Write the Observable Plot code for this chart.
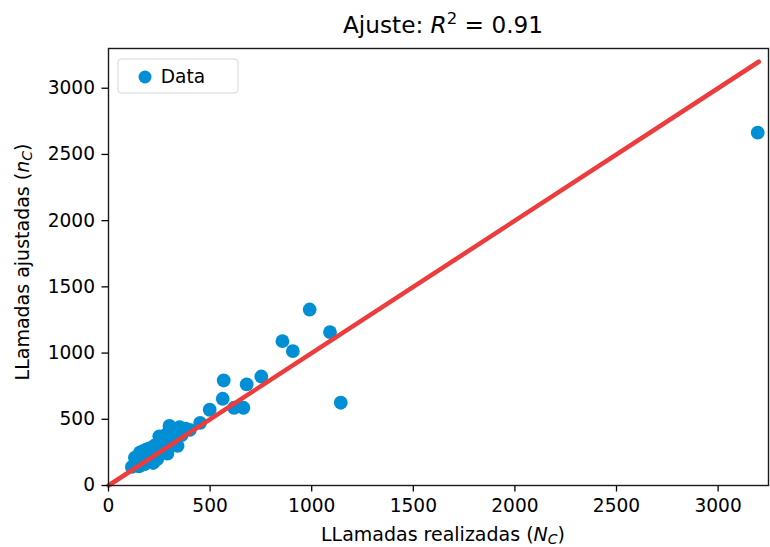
<!DOCTYPE html>
<html>
<head>
<meta charset="utf-8">
<script src="https://cdn.jsdelivr.net/npm/d3@7"></script>
<script src="https://cdn.jsdelivr.net/npm/@observablehq/plot@0.6"></script>
<style>
  html, body { margin: 0; padding: 0; background: #fff; }
  #chart svg { display: block; }
</style>
</head>
<body>
<div id="chart"></div>
<script>
// Observed calls (N_C) and fitted calls (n_C)
const realizadas = [
  115, 140, 150, 160, 170, 180, 190, 200, 210, 220, 230, 240, 250, 260, 270, 280,
  290, 300, 310, 320, 330, 340, 350, 360, 380, 400, 130, 155, 175, 205, 225, 265,
  295, 315, 245, 185,
  451, 498, 562, 567, 618, 664, 680, 752, 856, 907, 990, 1090, 1143, 3195
];
const ajustadas = [
  140, 170, 145, 200, 260, 220, 190, 280, 230, 170, 260, 200, 370, 310, 280, 380,
  240, 450, 340, 400, 420, 300, 440, 380, 430, 420, 210, 250, 160, 180, 300, 350,
  400, 430, 240, 270,
  473, 572, 655, 793, 587, 587, 763, 823, 1090, 1014, 1329, 1158, 625, 2664
];
// Reference line (ideal fit)
const lineaX = [0, 3200];
const lineaY = [0, 3200];
const ticks = [0, 500, 1000, 1500, 2000, 2500, 3000];

const puntos = realizadas.map((x, i) => ({x, y: ajustadas[i]}));
const linea = lineaX.map((x, i) => ({x, y: lineaY[i]}));

const FONT = "DejaVu Sans, sans-serif";
const FS = 18.6;
const W = 770, H = 547;
const mL = 108, mR = 2, mT = 48, mB = 62;

const plot = Plot.plot({
  width: W,
  height: H,
  marginLeft: mL,
  marginRight: mR,
  marginTop: mT,
  marginBottom: mB,
  style: {fontFamily: FONT, fontSize: FS + "px", color: "#000", background: "#fff"},
  x: {domain: [0, 3248], label: null},
  y: {domain: [0, 3300], label: null},
  marks: [
    Plot.dot(puntos, {x: "x", y: "y", r: 6.9, fill: "#008fd5", stroke: "none"}),
    Plot.line(linea, {x: "x", y: "y", stroke: "#ee3b3b", strokeWidth: 4.5}),
    Plot.axisX({ticks: ticks, tickSize: 6.5, tickPadding: 7, strokeWidth: 1.3, tickFormat: d => String(d), fontSize: FS, label: null}),
    Plot.axisY({ticks: ticks, tickSize: 6.5, tickPadding: 7, strokeWidth: 1.3, tickFormat: d => String(d), fontSize: FS, label: null}),
    Plot.frame({stroke: "#1a1a1a", strokeWidth: 1.4})
  ]
});

document.getElementById("chart").appendChild(plot);

const svg = d3.select(plot);

// Title
const title = svg.append("text")
  .attr("x", 443).attr("y", 33)
  .attr("text-anchor", "middle")
  .attr("font-family", FONT).attr("font-size", "23.2px").attr("fill", "#000");
title.append("tspan").text("Ajuste: ");
title.append("tspan").attr("font-style", "italic").text("R");
title.append("tspan").attr("font-size", "16.5px").attr("dy", "-9").text("2");
title.append("tspan").attr("dy", "9").text(" = 0.91");

// X label
const xl = svg.append("text")
  .attr("x", 443).attr("y", 541)
  .attr("text-anchor", "middle")
  .attr("font-family", FONT).attr("font-size", "19px").attr("fill", "#000");
xl.append("tspan").text("LLamadas realizadas (");
xl.append("tspan").attr("font-style", "italic").text("N");
xl.append("tspan").attr("font-style", "italic").attr("font-size", "14px").attr("dy", "3").text("C");
xl.append("tspan").attr("dy", "-3").text(")");

// Y label
const yl = svg.append("text")
  .attr("transform", `translate(29, 262) rotate(-90)`)
  .attr("text-anchor", "middle")
  .attr("font-family", FONT).attr("font-size", "19px").attr("fill", "#000");
yl.append("tspan").text("LLamadas ajustadas (");
yl.append("tspan").attr("font-style", "italic").text("n");
yl.append("tspan").attr("font-style", "italic").attr("font-size", "14px").attr("dy", "3").text("C");
yl.append("tspan").attr("dy", "-3").text(")");

// Legend
const lg = svg.append("g");
lg.append("rect")
  .attr("x", 118).attr("y", 59).attr("width", 120).attr("height", 34)
  .attr("rx", 3).attr("fill", "#fff").attr("fill-opacity", 0.8)
  .attr("stroke", "#d6d6d6").attr("stroke-width", 1);
lg.append("circle").attr("cx", 145).attr("cy", 77).attr("r", 6.5).attr("fill", "#008fd5");
lg.append("text").attr("x", 183).attr("y", 83)
  .attr("font-family", FONT).attr("font-size", FS + "px").attr("fill", "#000").text("Data");
</script>
</body>
</html>
